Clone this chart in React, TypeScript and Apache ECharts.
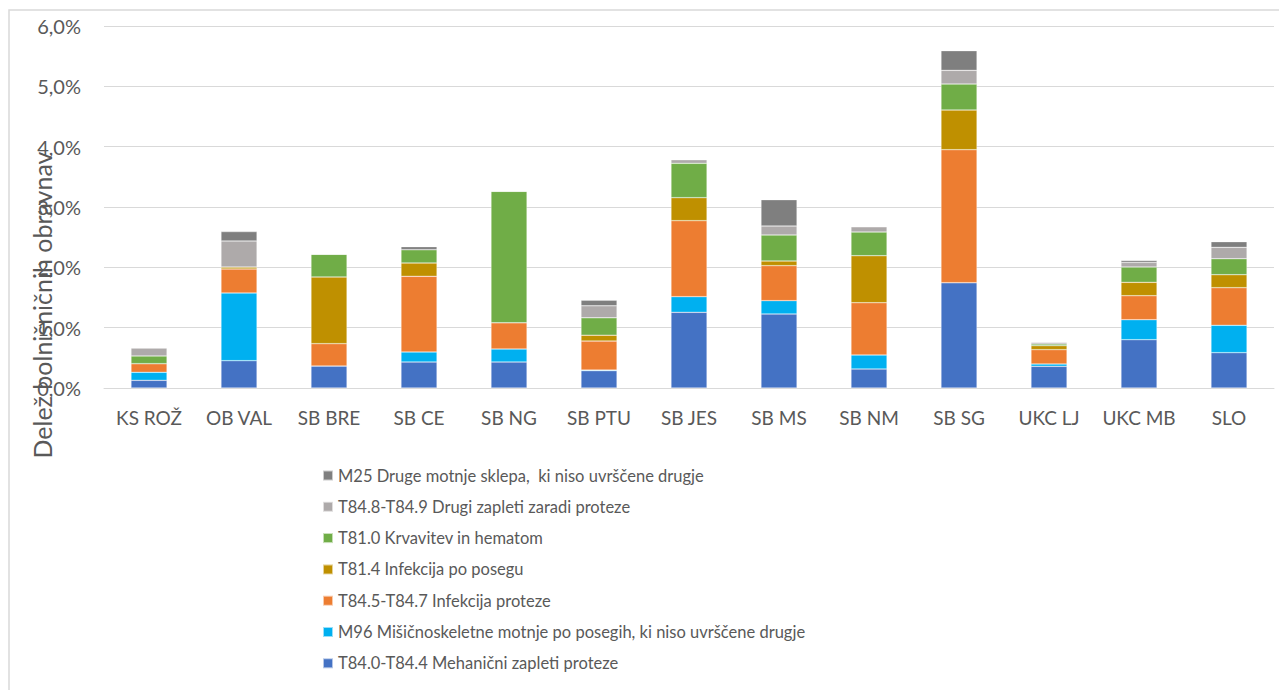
import React, { useEffect, useRef } from "react";
import * as echarts from "echarts";

const categories = ["KS ROŽ", "OB VAL", "SB BRE", "SB CE", "SB NG", "SB PTU", "SB JES", "SB MS", "SB NM", "SB SG", "UKC LJ", "UKC MB", "SLO"];

const seriesNames = [
  "T84.0-T84.4 Mehanični zapleti proteze",
  "M96 Mišičnoskeletne motnje po posegih, ki niso uvrščene drugje",
  "T84.5-T84.7 Infekcija proteze",
  "T81.4 Infekcija po posegu",
  "T81.0 Krvavitev in hematom",
  "T84.8-T84.9 Drugi zapleti zaradi proteze",
  "M25 Druge motnje sklepa,  ki niso uvrščene drugje",
];

const mehanicni = [0.127, 0.453, 0.365, 0.431, 0.431, 0.287, 1.254, 1.227, 0.315, 1.746, 0.359, 0.801, 0.586];
const m96 = [0.133, 1.122, 0, 0.166, 0.215, 0.01, 0.26, 0.221, 0.232, 0, 0.039, 0.331, 0.453];
const infekcijaProteze = [0.144, 0.398, 0.37, 1.254, 0.436, 0.48, 1.26, 0.58, 0.867, 2.204, 0.238, 0.398, 0.624];
const infekcijaPosegu = [0, 0.033, 1.105, 0.221, 0, 0.099, 0.381, 0.077, 0.779, 0.657, 0.066, 0.221, 0.215];
const krvavitev = [0.127, 0, 0.376, 0.221, 2.177, 0.287, 0.569, 0.431, 0.392, 0.431, 0.028, 0.254, 0.265];
const drugiZapleti = [0.133, 0.431, 0, 0, 0, 0.199, 0.061, 0.149, 0.088, 0.227, 0.028, 0.077, 0.188];
const m25 = [0, 0.155, 0, 0.05, 0, 0.094, 0, 0.436, 0, 0.326, 0, 0.033, 0.094];

const seriesData = [mehanicni, m96, infekcijaProteze, infekcijaPosegu, krvavitev, drugiZapleti, m25];
const colors = ["#4472C4", "#00B0F0", "#ED7D31", "#BF9000", "#70AD47", "#AEAAAA", "#7F7F7F"];

const FONT = "Lato";
const TXT = "#595959";

export default function App() {
  const ref = useRef<HTMLDivElement>(null);
  useEffect(() => {
    if (!ref.current) return;
    const chart = echarts.init(ref.current, null, { renderer: "svg" });
    chart.setOption({
      animation: false,
      backgroundColor: "#fff",
      textStyle: { fontFamily: FONT },
      grid: { left: 104, right: 5, top: 26, bottom: 302, containLabel: false },
      xAxis: {
        type: "category",
        data: categories,
        axisTick: { show: false },
        axisLine: { lineStyle: { color: "#D9D9D9", width: 1 } },
        axisLabel: { color: TXT, fontSize: 19, fontFamily: FONT, margin: 20, interval: 0 },
      },
      yAxis: {
        type: "value",
        min: 0,
        max: 6,
        interval: 1,
        axisLine: { show: false },
        axisTick: { show: false },
        splitLine: { lineStyle: { color: "#D9D9D9", width: 1 } },
        axisLabel: {
          color: TXT,
          fontSize: 20,
          fontFamily: FONT,
          margin: 23,
          formatter: (v: number) => v.toFixed(1).replace(".", ",") + "%",
        },
      },
      legend: {
        orient: "vertical",
        left: 317,
        top: 460.5,
        itemWidth: 10,
        itemHeight: 10,
        itemGap: 11.3,
        icon: "rect",
        textStyle: { color: TXT, fontSize: 16.5, fontFamily: FONT, lineHeight: 20 },
        data: [...seriesNames].reverse(),
      },
      graphic: [
        {
          type: "rect",
          shape: { x: 9, y: 10, width: 1290, height: 700 },
          style: { fill: "none", stroke: "#D9D9D9", lineWidth: 1.5 },
          silent: true,
        },
        {
          type: "text",
          x: 42,
          y: 305,
          rotation: Math.PI / 2,
          z: 100,
          style: {
            text: "Delež bolnišničnih obravnav",
            fill: TXT,
            fontSize: 25,
            fontFamily: FONT,
            align: "center",
            verticalAlign: "middle",
          },
        },
      ],
      series: seriesNames.map((name, i) => ({
        name,
        type: "bar",
        stack: "total",
        barWidth: "40%",
        data: seriesData[i],
        itemStyle: { color: colors[i], borderColor: "rgba(255,255,255,0.6)", borderWidth: 0.5 },
      })),
    });
    return () => chart.dispose();
  }, []);
  return <div ref={ref} style={{ position: "fixed", left: 0, top: 0, width: 1279, height: 690 }} />;
}
